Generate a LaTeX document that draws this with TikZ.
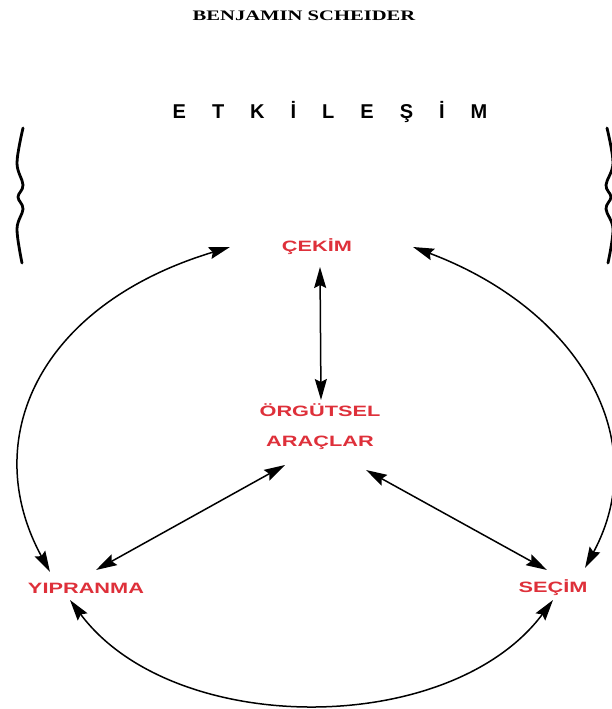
\documentclass[tikz,border=0pt]{standalone}
\usepackage{fontspec}
\usepackage{graphicx}
\setmainfont{Liberation Sans}
\newfontfamily\authorfont{Liberation Serif}
\usetikzlibrary{arrows.meta,calc}
\definecolor{labred}{RGB}{222,48,58}
\newcommand{\wide}[1]{\scalebox{1.45}[1]{#1}}
\newcommand{\lgap}{\hspace{26pt}}
\begin{document}
\begin{tikzpicture}[x=1pt,y=-1pt,
  lab/.style={text=labred,font=\bfseries\fontsize{15}{30}\selectfont,inner sep=0pt,align=center},
  link/.style={line width=1.5pt,{Stealth[length=21pt,width=12pt,inset=3pt]}-{Stealth[length=21pt,width=12pt,inset=3pt]}},
  bracestyle/.style={line width=2.8pt,line cap=round}]
\useasboundingbox (0,0) rectangle (611,709);
\node[font=\authorfont\bfseries\fontsize{14.5}{16}\selectfont,inner sep=0pt] (author) at (304,16) {\scalebox{1.42}[1]{BENJAMIN SCHEIDER}};
\node[font=\bfseries\fontsize{20}{22}\selectfont,inner sep=0pt] (title) at (330,112) {E\lgap T\lgap K\lgap İ\lgap L\lgap E\lgap Ş\lgap İ\lgap M};
\node[lab] (cekim) at (317,247) {\wide{ÇEKİM}};
\node[lab] (org) at (320,427) {\wide{ÖRGÜTSEL}\\\wide{ARAÇLAR}};
\node[lab] (yip) at (86,588) {\wide{YIPRANMA}};
\node[lab] (sec) at (553,588) {\wide{SEÇİM}};
\coordinate (cekL) at ($(cekim)+(-87,0)$);
\coordinate (cekR) at ($(cekim)+(96,0)$);
\coordinate (cekB) at ($(cekim)+(3,20)$);
\coordinate (orgT) at ($(org)+(1,-27)$);
\coordinate (orgBL) at ($(org)+(-35,38)$);
\coordinate (orgBR) at ($(org)+(46,43)$);
\coordinate (yipT) at ($(yip)+(-36,-16)$);
\coordinate (yipTR) at ($(yip)+(10,-18)$);
\coordinate (yipB) at ($(yip)+(-16,12)$);
\coordinate (secT) at ($(sec)+(32,-20)$);
\coordinate (secTL) at ($(sec)+(-6,-18)$);
\coordinate (secB) at ($(sec)+(0,12)$);
\draw[link] (cekB) -- (orgT);
\draw[link] (orgBL) -- (yipTR);
\draw[link] (orgBR) -- (secTL);
\draw[link] (cekL) .. controls +(-192,58) and +(-72,-132) .. (yipT);
\draw[link] (cekR) .. controls +(167,63) and +(69,-128) .. (secT);
\draw[link] (yipB) .. controls +(103,138) and +(-103,138) .. (secB);
\draw[bracestyle] plot[smooth,tension=0.6] coordinates {(23,128) (17,163) (23,185) (18,197) (23,209) (17,229) (22,263)};
\draw[bracestyle] plot[smooth,tension=0.6] coordinates {(607,128) (613,163) (606,185) (611,197) (606,209) (613,229) (608,263)};
\end{tikzpicture}
\end{document}
